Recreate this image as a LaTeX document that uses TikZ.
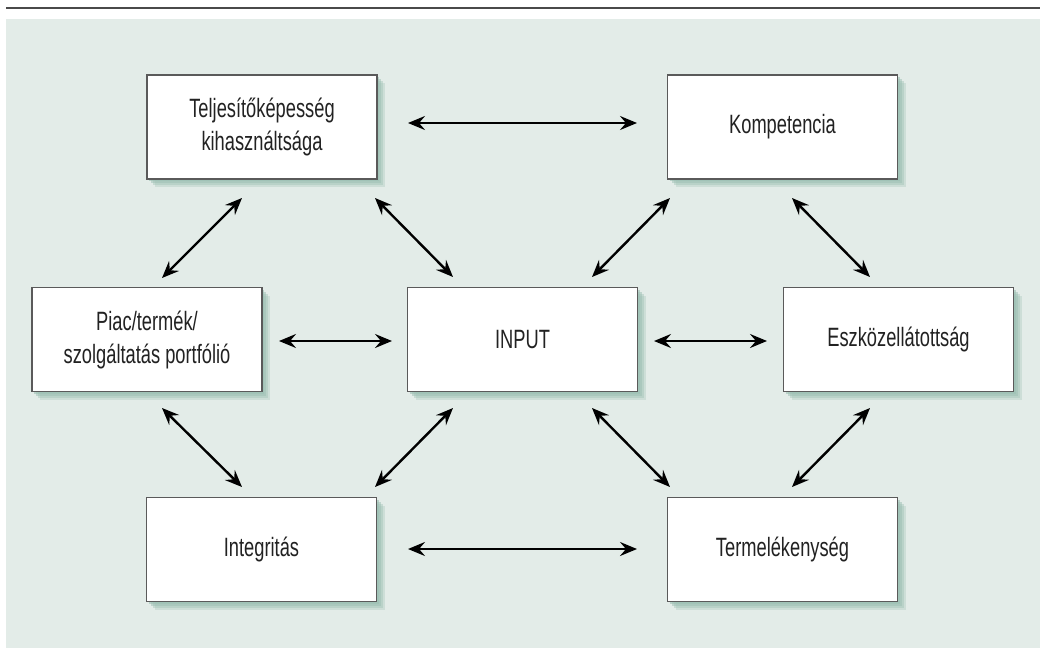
\documentclass[tikz,border=0pt]{standalone}
\usepackage{fontspec}
\setmainfont{Liberation Sans}[FakeStretch=0.69]
\usetikzlibrary{arrows.meta}
\definecolor{bgcol}{HTML}{E3ECE8}
\definecolor{rulecol}{HTML}{4A4A4A}
\definecolor{boxline}{HTML}{5A5A5A}
\definecolor{shadowcol}{HTML}{9CC0B3}
\definecolor{txtcol}{HTML}{222222}
\tikzset{
  boxshape/.style={
    preaction={fill=shadowcol, fill opacity=0.3, transform canvas={shift={(8pt,-8pt)}}},
    preaction={fill=shadowcol, fill opacity=0.4, transform canvas={shift={(6pt,-6pt)}}},
    preaction={fill=shadowcol, fill opacity=0.5, transform canvas={shift={(4pt,-4pt)}}},
    preaction={fill=shadowcol, fill opacity=0.6, transform canvas={shift={(2pt,-2pt)}}},
    draw=boxline, fill=white, line width=1.2pt,
    minimum width=230pt, minimum height=104pt,
    align=center, text=txtcol,
    font=\fontsize{26.5}{33}\selectfont, inner sep=0pt},
  dblarrow/.style={line width=2.4pt, {Stealth[length=17pt,width=14pt,inset=6pt]}-{Stealth[length=17pt,width=14pt,inset=6pt]}}
}
\begin{document}
\begin{tikzpicture}[x=1pt,y=-1pt]
\useasboundingbox (0,0) rectangle (1040,648);
\fill[bgcol] (6,19) rectangle (1040,648);
\draw[rulecol, line width=2pt] (6,8) -- (1040,8);

\node[boxshape] (tel) at (262,127) {Teljesítőképesség\\kihasználtsága};
\node[boxshape] (komp) at (782.5,127) {Kompetencia};
\node[boxshape] (piac) at (147,339.5) {Piac/termék/\\szolgáltatás portfólió};
\node[boxshape] (inp) at (522.5,339.5) {INPUT};
\node[boxshape] (eszk) at (898.5,339.5) {Eszközellátottság};
\node[boxshape] (integ) at (261.5,549.5) {Integritás};
\node[boxshape] (term) at (782.5,549.5) {Termelékenység};

% arrow end points
\coordinate (a1s) at (408,123); \coordinate (a1e) at (637,123);
\coordinate (a2s) at (279,341); \coordinate (a2e) at (392,341);
\coordinate (a3s) at (654,341); \coordinate (a3e) at (767,341);
\coordinate (a4s) at (408,549); \coordinate (a4e) at (637,549);
\coordinate (d1s) at (242,198); \coordinate (d1e) at (162,278);
\coordinate (d2s) at (375,198); \coordinate (d2e) at (453,277);
\coordinate (d3s) at (592,277); \coordinate (d3e) at (670,198);
\coordinate (d4s) at (792,198); \coordinate (d4e) at (870,277);
\coordinate (d5s) at (162,408); \coordinate (d5e) at (242,487);
\coordinate (d6s) at (453,408); \coordinate (d6e) at (375,487);
\coordinate (d7s) at (592,408); \coordinate (d7e) at (670,487);
\coordinate (d8s) at (870,408); \coordinate (d8e) at (792,487);

\foreach \n in {a1,a2,a3,a4,d1,d2,d3,d4,d5,d6,d7,d8}
  \draw[dblarrow] (\n s) -- (\n e);
\end{tikzpicture}
\end{document}
